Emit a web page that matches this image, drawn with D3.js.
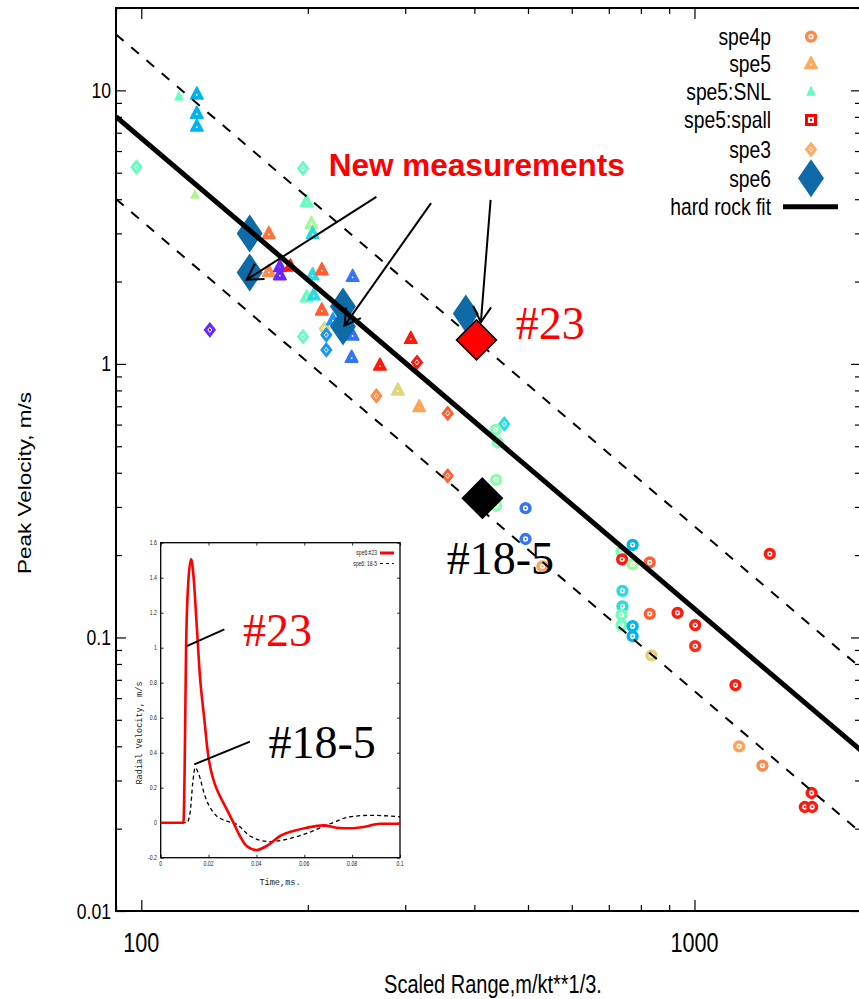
<!DOCTYPE html>
<html>
<head>
<meta charset="utf-8">
<script src="https://cdn.jsdelivr.net/npm/d3@7/dist/d3.min.js"></script>
<style>
  html, body { margin: 0; padding: 0; background: #fff; }
  svg { display: block; }
</style>
</head>
<body>
<div id="chart"></div>
<script>
// ---------------- DATA ----------------
const seriesNames = ["spe4p", "spe5", "spe5:SNL", "spe5:spall", "spe3", "spe6", "hard rock fit"];
const legendZ = [0.82, 0.77, 0.45, 1.0, 0.77];

// spe4p (ring symbols) : scaled range, peak velocity, palette value
const spe4pRange = [437, 441, 438, 438, 495, 495, 531, 773, 738, 740, 773, 830, 1368, 741, 741, 738, 738, 773, 773, 830, 932, 1003, 1003, 836, 1186, 1204, 1327, 1628, 1583, 1632];
const spe4pVel   = [0.574, 0.516, 0.377, 0.303, 0.297, 0.229, 0.182, 0.218, 0.206, 0.193, 0.185, 0.188, 0.202, 0.148, 0.130, 0.121, 0.111, 0.110, 0.101, 0.122, 0.123, 0.111, 0.093, 0.086, 0.067, 0.040, 0.034, 0.027, 0.024, 0.024];
const spe4pZ     = [0.50, 0.50, 0.52, 0.52, 0.15, 0.15, 0.78, 0.25, 0.48, 0.97, 0.58, 0.88, 0.97, 0.33, 0.33, 0.47, 0.47, 0.25, 0.25, 0.88, 0.97, 0.97, 0.95, 0.70, 0.97, 0.78, 0.82, 0.97, 0.97, 0.97];

// spe5 (triangles with dot)
const spe5Range = [126, 126, 126, 199, 203, 204, 170, 170, 178, 178, 186, 204, 212, 241, 199, 205, 212, 222, 241, 240, 307, 270, 291, 318];
const spe5Vel   = [9.7, 8.25, 7.4, 3.92, 3.27, 3.0, 3.0, 2.18, 2.27, 2.12, 2.28, 2.12, 2.21, 2.09, 1.76, 1.79, 1.575, 1.45, 1.276, 1.058, 1.241, 0.99, 0.803, 0.698];
const spe5Z     = [0.25, 0.25, 0.25, 0.45, 0.58, 0.33, 0.85, 0.82, 0.05, 0.05, 0.97, 0.33, 0.88, 0.15, 0.45, 0.33, 0.88, 0.20, 0.15, 0.15, 0.97, 0.97, 0.68, 0.78];

// spe5:SNL (small triangles)
const snlRange = [117, 125];
const snlVel   = [9.5, 4.15];
const snlZ     = [0.45, 0.60];

// spe5:spall (squares) - none visible in the plotted window
const spallRange = [];
const spallVel   = [];
const spallZ     = [];

// spe3 (diamonds with dot)
const spe3Range = [98, 196, 133, 196, 214.5, 216, 216, 315, 266, 358, 453, 358];
const spe3Vel   = [5.24, 5.18, 1.331, 1.258, 1.343, 1.276, 1.125, 1.013, 0.764, 0.66, 0.603, 0.39];
const spe3Z     = [0.45, 0.45, 0.05, 0.45, 0.68, 0.20, 0.20, 0.97, 0.82, 0.88, 0.33, 0.88];

// spe6 (big diamonds)
const spe6Range = [157, 157, 231.5, 231.5, 386];
const spe6Vel   = [3.0, 2.16, 1.62, 1.37, 1.53];

// new measurements
const newLabels = ["#23", "#18-5"];
const newRange  = [403.5, 413.6];
const newVel    = [1.224, 0.323];

// hard rock fit  v = A * R^B, with factor-of-two band
const fitCoefficient = 18400;
const fitExponent = -1.72;
const bandFactor = 2;

// annotation arrows (data coordinates)
const arrowFromRange = [266, 334, 428];
const arrowFromVel   = [4.08, 3.87, 3.98];
const arrowToRange   = [155, 233, 411];
const arrowToVel     = [2.03, 1.38, 1.42];
const annotText = "New measurements";
const annotRange = 404, annotVel = 4.87;
const labelRange = [475, 356.5];
const labelVel   = [1.234, 0.1707];

// axes
const xDomain = [90, 2000];
const yDomain = [0.01, 20];
const xMajorTicks = [100, 1000];
const yMajorTicks = [0.01, 0.1, 1, 10];
const xTickLabels = ["100", "1000"];
const yTickLabels = ["0.01", "0.1", "1", "10"];
const xTitle = "Scaled Range,m/kt**1/3.";
const yTitle = "Peak Velocity, m/s";

// inset: radial velocity waveforms
const insetT23 = [0, 0.0095, 0.0100, 0.0106, 0.0116, 0.0127, 0.0136, 0.0150, 0.0164, 0.0181, 0.0199, 0.0220, 0.0241, 0.0269, 0.0304, 0.0331, 0.0359, 0.0401, 0.0443, 0.0499, 0.0554, 0.0610, 0.0680, 0.0735, 0.0791, 0.0847, 0.0916, 0.1];
const insetV23 = [0, 0, 0.30, 1.0, 1.39, 1.505, 1.425, 1.14, 0.836, 0.608, 0.38, 0.247, 0.171, 0.095, 0, -0.076, -0.133, -0.156, -0.133, -0.076, -0.0475, -0.0285, -0.015, -0.0285, -0.032, -0.025, -0.006, -0.006];
const insetT185 = [0, 0.0109, 0.0123, 0.0134, 0.0144, 0.0157, 0.0185, 0.0227, 0.0276, 0.0318, 0.0373, 0.0457, 0.0526, 0.0610, 0.0708, 0.0791, 0.0875, 0.1];
const insetV185 = [0, 0, 0.057, 0.228, 0.315, 0.285, 0.152, 0.0475, 0.0095, -0.0095, -0.076, -0.108, -0.095, -0.061, -0.006, 0.034, 0.042, 0.034];
const insetLegend = ["spe6:#23", "spe6: 18-5"];
const insetXTicks = [0, 0.02, 0.04, 0.06, 0.08, 0.1];
const insetXLabels = ["0", "0.02", "0.04", "0.06", "0.08", "0.1"];
const insetYTicks = [-0.2, 0, 0.2, 0.4, 0.6, 0.8, 1.0, 1.2, 1.4, 1.6];
const insetYLabels = ["-0.2", "0", "0.2", "0.4", "0.6", "0.8", "1", "1.2", "1.4", "1.6"];
const insetXTitle = "Time,ms.";
const insetYTitle = "Radial Velocity, m/s";
const insetLabelLine23 = [[0.0109, 1.009], [0.0266, 1.105]];
const insetLabelLine185 = [[0.0140, 0.333], [0.0373, 0.463]];
const insetLabelPos = [[0.0344, 1.009], [0.045, 0.371]];

// ---------------- DRAWING ----------------
const W = 859, H = 999;
const SANS = "'Liberation Sans', Arial, Helvetica, sans-serif";
const SERIF = "'Liberation Serif', 'Times New Roman', serif";
const MONO = "'Liberation Mono', 'DejaVu Sans Mono', monospace";
const SX = 0.8; // horizontal compression of original plot text

function pal(z) {
  const r = Math.min(1, Math.abs(2 * z - 0.5));
  const g = Math.max(0, Math.sin(Math.PI * z));
  const b = Math.max(0, Math.cos(Math.PI * z / 2));
  return d3.rgb(r * 255, g * 255, b * 255).formatHex();
}

const svg = d3.select("#chart").append("svg")
  .attr("width", W).attr("height", H).attr("viewBox", `0 0 ${W} ${H}`);
svg.append("rect").attr("width", W).attr("height", H).attr("fill", "#fff");

const x = d3.scaleLog().domain(xDomain).range([116, 861]);
const y = d3.scaleLog().domain(yDomain).range([911, 8]);
const [X0, X1] = x.range();
const [Y0, Y1] = y.range();

svg.append("clipPath").attr("id", "plotclip").append("rect")
  .attr("x", X0).attr("y", Y1).attr("width", X1 - X0).attr("height", Y0 - Y1);

function ctext(g, px, py, str, size, anchor, sx, opts = {}) {
  return g.append("text")
    .attr("transform", `translate(${px},${py}) scale(${sx},1)`)
    .attr("text-anchor", anchor)
    .style("font-family", opts.family || SANS)
    .style("font-size", size + "px")
    .style("font-weight", opts.weight || "normal")
    .attr("fill", opts.fill || "#000")
    .text(str);
}

// ---- axes ticks ----
const minorX = [];
for (let d = 10; d <= 1000; d *= 10) for (let k = 2; k <= 9; k++) { const v = d * k; if (v >= xDomain[0] && v <= xDomain[1] && !xMajorTicks.includes(v)) minorX.push(v); }
minorX.push(2000);
const minorY = [];
for (let d = 0.01; d <= 10; d *= 10) for (let k = 2; k <= 9; k++) { const v = +(d * k).toPrecision(3); if (v <= yDomain[1]) minorY.push(v); }

const tickG = svg.append("g").attr("class", "ticks");
tickG.append("g").attr("transform", `translate(0,${Y0})`)
  .call(d3.axisBottom(x).tickValues(xMajorTicks).tickSize(-11).tickFormat(""));
tickG.append("g").attr("transform", `translate(0,${Y0})`)
  .call(d3.axisBottom(x).tickValues(minorX).tickSize(-6).tickFormat(""));
tickG.append("g").attr("transform", `translate(0,${Y1})`)
  .call(d3.axisTop(x).tickValues(xMajorTicks).tickSize(-11).tickFormat(""));
tickG.append("g").attr("transform", `translate(0,${Y1})`)
  .call(d3.axisTop(x).tickValues(minorX).tickSize(-6).tickFormat(""));
tickG.append("g").attr("transform", `translate(${X0},0)`)
  .call(d3.axisLeft(y).tickValues(yMajorTicks).tickSize(-10).tickFormat(""));
tickG.append("g").attr("transform", `translate(${X0},0)`)
  .call(d3.axisLeft(y).tickValues(minorY).tickSize(-6).tickFormat(""));
tickG.append("g").attr("transform", `translate(${X1},0)`)
  .call(d3.axisRight(y).tickValues(yMajorTicks).tickSize(-10).tickFormat(""));
tickG.append("g").attr("transform", `translate(${X1},0)`)
  .call(d3.axisRight(y).tickValues(minorY).tickSize(-6).tickFormat(""));
tickG.selectAll(".domain").remove();
tickG.selectAll(".tick line").attr("stroke", "#000").attr("stroke-width", 1.2);

// frame
svg.append("rect").attr("x", X0).attr("y", Y1).attr("width", X1 - X0).attr("height", Y0 - Y1)
  .attr("fill", "none").attr("stroke", "#000").attr("stroke-width", 2);

// tick labels
yMajorTicks.forEach((v, i) => ctext(svg, 111, y(v) + 7.5, yTickLabels[i], 22, "end", SX));
xMajorTicks.forEach((v, i) => ctext(svg, x(v), 952, xTickLabels[i], 27, "middle", SX));
ctext(svg, 493, 993, xTitle, 25, "middle", SX);
svg.append("text")
  .attr("transform", `translate(31,483) rotate(-90) scale(1,${SX})`)
  .attr("text-anchor", "middle")
  .style("font-family", SANS).style("font-size", "22.5px")
  .text(yTitle);

// ---- inset ----
const ix = d3.scaleLinear().domain([0, 0.1]).range([160.7, 400]);
const iy = d3.scaleLinear().domain([-0.2, 1.6]).range([857.7, 542.7]);
const inset = svg.append("g").attr("class", "inset");
inset.append("rect").attr("x", 130).attr("y", 532).attr("width", 282).attr("height", 360).attr("fill", "#fff");
const iticks = inset.append("g");
iticks.append("g").attr("transform", `translate(0,${iy.range()[0]})`).call(d3.axisBottom(ix).tickValues(insetXTicks).tickSize(-3).tickFormat(""));
iticks.append("g").attr("transform", `translate(0,${iy.range()[1]})`).call(d3.axisTop(ix).tickValues(insetXTicks).tickSize(-3).tickFormat(""));
iticks.append("g").attr("transform", `translate(${ix.range()[0]},0)`).call(d3.axisLeft(iy).tickValues(insetYTicks).tickSize(-3).tickFormat(""));
iticks.append("g").attr("transform", `translate(${ix.range()[1]},0)`).call(d3.axisRight(iy).tickValues(insetYTicks).tickSize(-3).tickFormat(""));
iticks.selectAll(".domain").remove();
iticks.selectAll(".tick line").attr("stroke", "#000").attr("stroke-width", 0.8);
inset.append("rect").attr("x", ix.range()[0]).attr("y", iy.range()[1])
  .attr("width", ix.range()[1] - ix.range()[0]).attr("height", iy.range()[0] - iy.range()[1])
  .attr("fill", "none").attr("stroke", "#000").attr("stroke-width", 1.3);
insetYTicks.forEach((v, i) => ctext(inset, 157, iy(v) + 2.2, insetYLabels[i], 6.5, "end", 0.8, { fill: "#222" }));
insetXTicks.forEach((v, i) => ctext(inset, ix(v), 866, insetXLabels[i], 6.5, "middle", 0.8, { fill: "#222" }));
ctext(inset, 280, 885, insetXTitle, 8.6, "middle", 1, { family: MONO, fill: "#222" });
inset.append("text")
  .attr("transform", `translate(142,733) rotate(-90)`)
  .attr("text-anchor", "middle")
  .style("font-family", MONO).style("font-size", "8.6px").attr("fill", "#222")
  .text(insetYTitle);

const iline = d3.line().x(d => ix(d[0])).y(d => iy(d[1])).curve(d3.curveMonotoneX);
inset.append("path").datum(insetT185.map((t, i) => [t, insetV185[i]]))
  .attr("d", iline).attr("fill", "none").attr("stroke", "#000").attr("stroke-width", 1.3)
  .attr("stroke-dasharray", "4,3");
inset.append("path").datum(insetT23.map((t, i) => [t, insetV23[i]]))
  .attr("d", iline).attr("fill", "none").attr("stroke", "#ff0000").attr("stroke-width", 2.6);

// inset legend
ctext(inset, 377, 555, insetLegend[0], 6.3, "end", 0.8, { fill: "#222" });
ctext(inset, 377, 566, insetLegend[1], 6.3, "end", 0.8, { fill: "#222" });
inset.append("line").attr("x1", 380).attr("x2", 394).attr("y1", 553).attr("y2", 553).attr("stroke", "#ff0000").attr("stroke-width", 3);
inset.append("line").attr("x1", 380).attr("x2", 394).attr("y1", 563.5).attr("y2", 563.5).attr("stroke", "#000").attr("stroke-width", 1.2).attr("stroke-dasharray", "3,3");

// inset labels
[insetLabelLine23, insetLabelLine185].forEach(l => {
  inset.append("line").attr("x1", ix(l[0][0])).attr("y1", iy(l[0][1])).attr("x2", ix(l[1][0])).attr("y2", iy(l[1][1]))
    .attr("stroke", "#000").attr("stroke-width", 2);
});
ctext(inset, ix(insetLabelPos[0][0]), iy(insetLabelPos[0][1]), newLabels[0], 46, "start", 1, { family: SERIF, fill: "#ff0000" });
ctext(inset, ix(insetLabelPos[1][0]), iy(insetLabelPos[1][1]), newLabels[1], 46, "start", 1, { family: SERIF, fill: "#000" });

// ---- symbols ----
const triBig = "M0,-7 L6.3,5 L-6.3,5 Z";
const triSmall = "M0,-6.5 L4.8,4 L-4.8,4 Z";
const dia = "M0,-7 L5.5,0 L0,7 L-5.5,0 Z";
const diaInner = "M0,-2.6 L2,0 L0,2.6 L-2,0 Z";
const dia6 = "M0,-19 L13,0 L0,19 L-13,0 Z";
const diaNew = "M0,-20 L20,0 L0,20 L-20,0 Z";

function drawRing(g, px, py, col) {
  g.append("circle").attr("cx", px).attr("cy", py).attr("r", 4.4).attr("fill", "#fff").attr("stroke", col).attr("stroke-width", 3.5);
  g.append("circle").attr("cx", px).attr("cy", py).attr("r", 1.1).attr("fill", col);
}
function drawTri(g, px, py, col) {
  g.append("path").attr("transform", `translate(${px},${py})`).attr("d", triBig)
    .attr("fill", col).attr("stroke", col).attr("stroke-width", 1.5).attr("stroke-linejoin", "round");
  g.append("circle").attr("cx", px).attr("cy", py + 1).attr("r", 0.9).attr("fill", "#fff");
}
function drawSnl(g, px, py, col) {
  g.append("path").attr("transform", `translate(${px},${py})`).attr("d", triSmall).attr("fill", col);
}
function drawSquare(g, px, py, col) {
  g.append("rect").attr("x", px - 4.5).attr("y", py - 4.5).attr("width", 9).attr("height", 9)
    .attr("fill", "#fff").attr("stroke", col).attr("stroke-width", 3);
  g.append("circle").attr("cx", px).attr("cy", py).attr("r", 1.2).attr("fill", col);
}
function drawDia(g, px, py, col) {
  g.append("path").attr("transform", `translate(${px},${py})`).attr("d", dia)
    .attr("fill", col).attr("stroke", col).attr("stroke-width", 1.2).attr("stroke-linejoin", "round");
  g.append("path").attr("transform", `translate(${px},${py})`).attr("d", diaInner)
    .attr("fill", "none").attr("stroke", "#fff").attr("stroke-width", 1);
}
function drawDia6(g, px, py) {
  g.append("path").attr("transform", `translate(${px},${py})`).attr("d", dia6).attr("fill", "#0f6ba8");
}

const pts = svg.append("g").attr("clip-path", "url(#plotclip)");
spe3Range.forEach((r, i) => drawDia(pts, x(r), y(spe3Vel[i]), pal(spe3Z[i])));
spe5Range.forEach((r, i) => drawTri(pts, x(r), y(spe5Vel[i]), pal(spe5Z[i])));
snlRange.forEach((r, i) => drawSnl(pts, x(r), y(snlVel[i]), pal(snlZ[i])));
spallRange.forEach((r, i) => drawSquare(pts, x(r), y(spallVel[i]), pal(spallZ[i])));
spe4pRange.forEach((r, i) => drawRing(pts, x(r), y(spe4pVel[i]), pal(spe4pZ[i])));
spe6Range.forEach((r, i) => drawDia6(pts, x(r), y(spe6Vel[i])));

// ---- fit lines ----
const fitG = svg.append("g").attr("clip-path", "url(#plotclip)");
const fitLine = f => d3.line().x(d => x(d)).y(d => y(f * fitCoefficient * Math.pow(d, fitExponent)));
const fitEnds = xDomain;
fitG.append("path").datum(fitEnds).attr("d", fitLine(1)).attr("stroke", "#000").attr("stroke-width", 5).attr("fill", "none");
[bandFactor, 1 / bandFactor].forEach(f => {
  fitG.append("path").datum(fitEnds).attr("d", fitLine(f)).attr("stroke", "#000").attr("stroke-width", 2)
    .attr("fill", "none").attr("stroke-dasharray", "10,10");
});

// ---- new measurements ----
const newCols = ["#ff0000", "#000000"];
newRange.forEach((r, i) => {
  svg.append("path").attr("transform", `translate(${x(r)},${y(newVel[i])})`).attr("d", diaNew)
    .attr("fill", newCols[i]).attr("stroke", "#000").attr("stroke-width", 1.5);
});
newLabels.forEach((t, i) => ctext(svg, x(labelRange[i]), y(labelVel[i]), t, 46, "start", 1, { family: SERIF, fill: newCols[i] }));

// ---- arrows ----
const arrG = svg.append("g").attr("stroke", "#000").attr("stroke-width", 2).attr("fill", "none");
arrowFromRange.forEach((r, i) => {
  const x1 = x(r), y1 = y(arrowFromVel[i]), x2 = x(arrowToRange[i]), y2 = y(arrowToVel[i]);
  arrG.append("line").attr("x1", x1).attr("y1", y1).attr("x2", x2).attr("y2", y2);
  const a = Math.atan2(y1 - y2, x1 - x2), L = 18, h = Math.PI / 6;
  arrG.append("path").attr("d",
    `M${x2 + L * Math.cos(a + h)},${y2 + L * Math.sin(a + h)} L${x2},${y2} L${x2 + L * Math.cos(a - h)},${y2 + L * Math.sin(a - h)}`);
});
ctext(svg, x(annotRange), y(annotVel), annotText, 31.5, "middle", 1, { weight: "bold", fill: "#ff0000" });

// ---- legend ----
const leg = svg.append("g");
const legY = [36.7, 63.5, 91.8, 120, 149.5, 178.3, 206.7];
const legSymX = 811;
seriesNames.forEach((n, i) => ctext(leg, 771, legY[i] + 8.3, n, 23, "end", 0.84));
drawRing(leg, legSymX, legY[0], pal(legendZ[0]));
drawTri(leg, legSymX, legY[1], pal(legendZ[1]));
drawSnl(leg, legSymX, legY[2], pal(legendZ[2]));
drawSquare(leg, legSymX, legY[3], pal(legendZ[3]));
drawDia(leg, legSymX, legY[4], pal(legendZ[4]));
drawDia6(leg, legSymX, legY[5]);
leg.append("line").attr("x1", 783).attr("x2", 838).attr("y1", legY[6]).attr("y2", legY[6]).attr("stroke", "#000").attr("stroke-width", 5);
</script>
</body>
</html>
